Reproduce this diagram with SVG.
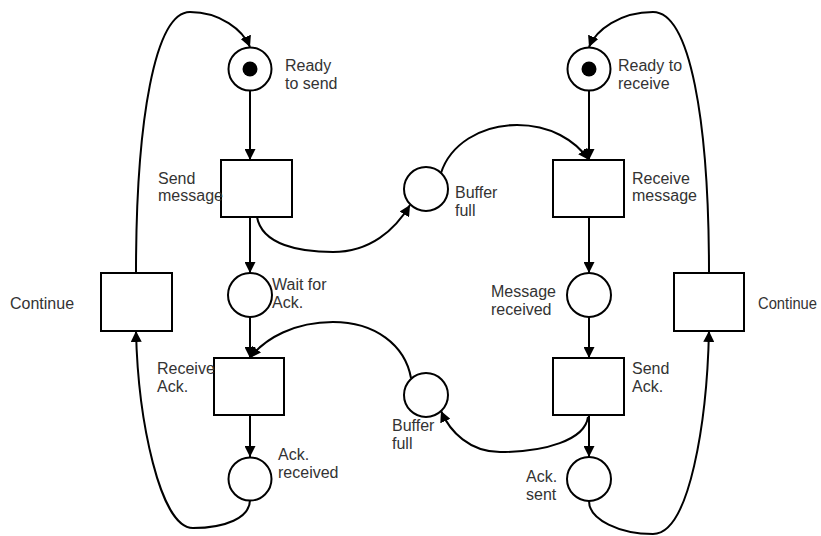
<svg xmlns="http://www.w3.org/2000/svg" width="821" height="536" viewBox="0 0 821 536">
<defs>
<marker id="arr" viewBox="0 0 10 10" refX="10" refY="5" markerWidth="11" markerHeight="11" markerUnits="userSpaceOnUse" orient="auto">
<path d="M0,0 L10,5 L0,10 z" fill="#000"/>
</marker>
</defs>
<style>
.p{fill:#fff;stroke:#000;stroke-width:2}
.t{fill:#fff;stroke:#000;stroke-width:2}
.tok{fill:#000}
.c{fill:none;stroke:#000;stroke-width:2;marker-end:url(#arr)}
text{font-family:"Liberation Sans",Arial,sans-serif;font-size:16px;fill:#333}
</style>
<rect width="821" height="536" fill="#fff"/>
<g id="connectors">
<path class="c" d="M250,90 L250,160"/>
<path class="c" d="M250,217 L250,273"/>
<path class="c" d="M250,317 L250,358"/>
<path class="c" d="M250,415 L250,457"/>
<path class="c" d="M589,90 L589,160"/>
<path class="c" d="M589,217 L589,273"/>
<path class="c" d="M589,317 L589,358"/>
<path class="c" d="M589,415 L589,457"/>
<path class="c" d="M136,273 C136,120 155,12 190,12 C220,12 243,30 250,47"/>
<path class="c" d="M250,500 C250,518 225,528 193,528 C160,528 138,420 136,331"/>
<path class="c" d="M709,273 C709,120 690,12 653,12 C620,12 596,30 589,47"/>
<path class="c" d="M589,501 C589,520 620,534 653,534 C690,534 707,420 709,331"/>
<path class="c" d="M257,217 C262,245 300,252 333,252 C370,252 395,230 410,205"/>
<path class="c" d="M441,173 C450,145 480,125 517,125 C550,125 575,140 589,160"/>
<path class="c" d="M588,417 C585,440 545,452 500,452 C470,452 450,432 441,411"/>
<path class="c" d="M411,378 C405,345 375,322 333,322 C295,322 265,338 250,358"/>
</g>
<g id="ready-to-send">
<circle class="p" cx="250" cy="69" r="21.5"/>
<circle class="tok" cx="250" cy="69" r="7.5"/>
<text x="285" y="71">Ready</text>
<text x="285" y="89">to send</text>
</g>
<g id="send-message">
<rect class="t" x="221" y="160" width="71" height="57"/>
<text x="158" y="184">Send</text>
<text x="158" y="201">message</text>
</g>
<g id="wait-for-ack">
<circle class="p" cx="250" cy="295" r="22"/>
<text x="272" y="290">Wait for</text>
<text x="272" y="308">Ack.</text>
</g>
<g id="receive-ack">
<rect class="t" x="214" y="358" width="70" height="57"/>
<text x="157" y="374">Receive</text>
<text x="157" y="392">Ack.</text>
</g>
<g id="ack-received">
<circle class="p" cx="250" cy="479" r="21.5"/>
<text x="278" y="460">Ack.</text>
<text x="278" y="478">received</text>
</g>
<g id="continue-left">
<rect class="t" x="101" y="273" width="71" height="58"/>
<text x="10" y="309">Continue</text>
</g>
<g id="buffer-full-top">
<circle class="p" cx="426" cy="189" r="22"/>
<text x="455" y="198">Buffer</text>
<text x="455" y="216">full</text>
</g>
<g id="buffer-full-bottom">
<circle class="p" cx="426" cy="395" r="22"/>
<text x="392" y="431">Buffer</text>
<text x="392" y="449">full</text>
</g>
<g id="ready-to-receive">
<circle class="p" cx="589" cy="69" r="21.5"/>
<circle class="tok" cx="589" cy="69" r="7.5"/>
<text x="618" y="71">Ready to</text>
<text x="618" y="89">receive</text>
</g>
<g id="receive-message">
<rect class="t" x="553" y="160" width="71" height="57"/>
<text x="632" y="184">Receive</text>
<text x="632" y="201">message</text>
</g>
<g id="message-received">
<circle class="p" cx="589" cy="295" r="22"/>
<text x="491" y="297">Message</text>
<text x="491" y="315">received</text>
</g>
<g id="send-ack">
<rect class="t" x="553" y="358" width="71" height="57"/>
<text x="632" y="374">Send</text>
<text x="632" y="392">Ack.</text>
</g>
<g id="ack-sent">
<circle class="p" cx="589" cy="479" r="22"/>
<text x="526" y="482">Ack.</text>
<text x="526" y="500">sent</text>
</g>
<g id="continue-right">
<rect class="t" x="674" y="273" width="70" height="58"/>
<text x="758" y="309" textLength="59" lengthAdjust="spacingAndGlyphs">Continue</text>
</g>
</svg>
